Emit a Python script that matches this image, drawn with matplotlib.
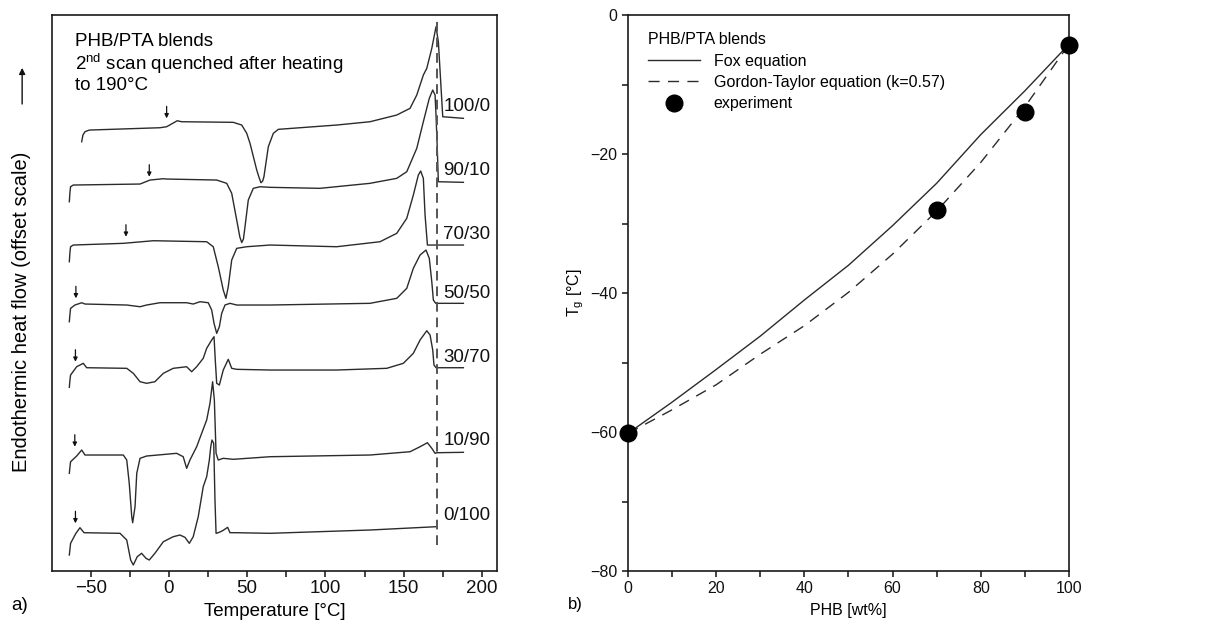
import numpy as np
import matplotlib
matplotlib.use('Agg')
import matplotlib.pyplot as plt
from matplotlib.ticker import MultipleLocator

plt.rcParams['font.family'] = ['Liberation Sans', 'DejaVu Sans']
plt.rcParams['mathtext.fontset'] = 'custom'
plt.rcParams['mathtext.rm'] = 'Liberation Sans'
plt.rcParams['mathtext.it'] = 'Liberation Sans:italic'

# ---- a) DSC traces (heat flow in offset units) ----
t_100_0 = [-55.8, -55.0, -53.7, -51.5, -50.5, -5.8, -1.5, 5.3, 8.1, 41.1, 46.5, 49.7, 51.8, 56.1,
           57.7, 58.8, 59.9, 60.7, 63.5, 66.7, 69.9, 107.2, 128.5, 145.6, 154.1, 158.4, 162.6, 164.8,
           168.0, 170.7, 172.2, 173.7, 175.0, 188.2]
q_100_0 = [429.3, 436, 439.3, 440.7, 441, 443.3, 444.3, 450.3, 449.3, 448.7, 446, 437.7, 427.7, 401,
           393, 388.3, 390, 394.3, 424.3, 437.7, 441.7, 446, 449.3, 456, 462.7, 476, 496, 502.7,
           522.7, 544.3, 529.3, 489.3, 454.3, 452.7]

t_90_10 = [-63.7, -63.3, -62.9, -61.2, -18.5, -12.1, -3.6, -1.5, 30.5, 36.9, 40.1, 43.3, 45.3, 46.5,
           47.6, 48.6, 50.7, 53.9, 58.2, 64.6, 96.5, 128.5, 145.6, 152.0, 158.4, 162.6, 166.4, 168.6,
           170.1, 170.7, 171.5, 172.2, 188.2]
q_90_10 = [369.3, 379, 384.3, 386, 387, 391, 392.3, 392, 391, 387.7, 377.7, 351, 334, 328.5,
           332, 344.3, 371, 382.7, 384.3, 383.7, 382.7, 387.7, 392.7, 399.3, 422.7, 449.3, 472.7, 481,
           476, 456, 422.7, 389.3, 388.7]

t_70_30 = [-63.7, -63.3, -62.9, -61.2, -29.2, -10.0, 24.1, 28.3, 31.5, 34.7, 36.4, 37.9, 40.1, 43.3,
           49.7, 64.6, 107.2, 134.9, 145.6, 152.0, 156.2, 159.4, 160.9, 162.6, 163.7, 165.2, 188.2]
q_70_30 = [309.3, 319, 324.3, 326, 327.7, 330.3, 329.3, 324.3, 304.3, 281, 272.7, 284.3, 311, 322.7,
           324.3, 326, 324.3, 329.3, 337.7, 352.7, 376, 396, 400, 392.7, 356, 326, 326]

t_50_50 = [-63.7, -63.3, -62.9, -60.1, -55.8, -53.7, -27.0, -18.5, -14.3, -5.8, 11.3, 15.5, 19.8,
           25.1, 27.3, 28.8, 30.5, 32.2, 33.7, 35.8, 39.0, 43.3, 64.6, 128.5, 145.6, 152.0, 156.2,
           160.5, 164.3, 166.4, 168.0, 169.0, 170.5, 188.2]
q_50_50 = [249.3, 257, 262.7, 266, 268.3, 267, 266, 264.3, 266, 268.3, 268.3, 267, 269.3,
           268.3, 261, 247.7, 237.7, 244.3, 257.7, 266, 267.7, 266, 266, 267.7, 272.7, 282.7, 302.7,
           316, 321, 312.7, 289.3, 271, 267.7, 267.7]

t_30_70 = [-63.7, -63.3, -62.9, -59.0, -54.8, -52.6, -27.0, -22.8, -18.5, -14.3, -9.0, -3.6, 2.7,
           11.3, 14.5, 17.7, 21.9, 24.1, 27.3, 28.8, 29.6, 30.5, 32.2, 34.7, 37.9, 40.1, 43.3,
           64.6, 107.2, 139.2, 149.8, 156.2, 160.5, 164.8, 166.9, 168.6, 169.4, 170.7, 188.2]
q_30_70 = [183.7, 191, 196, 204.3, 207.7, 203.3, 202.7, 197.7, 189.3, 187.7, 189.3, 197.7, 202.7,
           204.3, 199.3, 204.3, 212.7, 222.7, 231, 234.3, 211, 187.7, 186, 201, 211.7, 202.7, 201.7,
           201, 201, 202.7, 207.7, 217.7, 231, 240.3, 236, 221, 206, 203.3, 203.3]

t_10_90 = [-63.7, -63.3, -62.9, -59.0, -55.8, -53.7, -29.2, -27.0, -25.4, -23.8, -23.2, -21.7, -20.6,
           -18.5, -14.3, 4.9, 9.1, 11.3, 13.4, 17.7, 20.9, 24.1, 26.2, 27.9, 29.0, 30.1, 31.5,
           34.7, 41.1, 64.6, 128.5, 154.1, 160.5, 165.2, 168.0, 170.1, 171.2, 188.2]
q_10_90 = [97.7, 104, 109.3, 115, 121, 116, 116, 111, 87.7, 54.3, 48.3, 64.3, 97.7,
           112.7, 115, 117.7, 114.3, 102.7, 111, 124.3, 137.7, 151, 167.7, 189.3, 171, 117.7, 111,
           112.7, 111.7, 114.3, 116, 119.3, 124.3, 128.3, 122.7, 117.7, 118.3, 118.7]

t_0_100 = [-63.7, -63.3, -62.9, -59.5, -56.9, -54.3, -31.3, -27.0, -24.5, -22.8, -20.3, -17.5, -14.7,
           -12.6, -9.0, -3.6, 2.7, 7.0, 10.2, 13.0, 15.5, 18.7, 21.9, 24.1, 25.8, 26.7, 27.5, 28.6,
           29.4, 30.1, 31.5, 34.3, 37.5, 39.0, 43.3, 64.6, 128.5, 170.7]
q_0_100 = [16, 22, 27.7, 37.7, 43.3, 38.3, 37.7, 31, 11, 6, 14.3, 17.7, 12.7,
           11, 17.7, 29.3, 34.3, 36, 33.7, 27.7, 34.3, 54.3, 84.3, 94.3, 111, 124.3, 131, 127.7,
           71, 37.7, 38.3, 40.3, 43.7, 38.3, 38.3, 37.7, 41, 44.3]

blend_labels = ['100/0', '90/10', '70/30', '50/50', '30/70', '10/90', '0/100']
label_level = [464.3, 400.3, 336.7, 277.7, 213.7, 131, 56]
tg_arrow_t = [-1.5, -12.6, -27.5, -59.5, -59.8, -60.2, -59.8]
tg_arrow_q = [452.7, 394.3, 334.3, 272.7, 209.3, 124.3, 47.7]
tm_ref = 171.2

# ---- b) Tg vs composition ----
phb_wt = [0, 10, 20, 30, 40, 50, 60, 70, 80, 90, 100]
tg_fox = [-60.2, -55.7, -51.0, -46.2, -41.0, -36.0, -30.3, -24.2, -17.2, -10.9, -4.2]
tg_gt = [-60.2, -56.8, -53.2, -48.8, -44.7, -39.9, -34.4, -28.2, -21.2, -13.2, -4.2]
exp_wt = [0, 70, 90, 100]
exp_tg = [-60.2, -28.0, -13.9, -4.3]

line_c = '#2b2b2b'

fig = plt.figure(figsize=(12.17, 6.32), dpi=100)
ax1 = fig.add_axes([0.0427, 0.0965, 0.3657, 0.8797])
ax2 = fig.add_axes([0.516, 0.0965, 0.3624, 0.8797])

curves = [(t_100_0, q_100_0), (t_90_10, q_90_10), (t_70_30, q_70_30), (t_50_50, q_50_50),
          (t_30_70, q_30_70), (t_10_90, q_10_90), (t_0_100, q_0_100)]
for (t, q), lab, lvl in zip(curves, blend_labels, label_level):
    ax1.plot(t, q, color=line_c, lw=1.0)
    ax1.text(175.3, lvl, lab, fontsize=13.5, ha='left', va='center', color='#111')

for t, q in zip(tg_arrow_t, tg_arrow_q):
    ax1.annotate('', xy=(t, q), xytext=(t, q + 12),
                 arrowprops=dict(arrowstyle='-|>', lw=0.9, color='#111', mutation_scale=6,
                                 shrinkA=0, shrinkB=0))

ax1.axvline(tm_ref, ymin=0.047, ymax=0.995, color='#555', lw=1.4, ls=(0, (5, 3)))

ax1.set_xlim(-74.8, 209.7)
ax1.set_ylim(0, 556)
ax1.set_yticks([])
ax1.xaxis.set_major_locator(MultipleLocator(50))
ax1.xaxis.set_minor_locator(MultipleLocator(25))
ax1.tick_params(axis='x', which='both', direction='out', length=4, width=1.1,
                labelsize=13.5, colors='#111', pad=2.5)
ax1.set_xlabel('Temperature [°C]', fontsize=13.5, labelpad=4)
ax1.text(0.052, 0.968, 'PHB/PTA blends\n2$^{\\mathrm{nd}}$ scan quenched after heating\nto 190°C',
         transform=ax1.transAxes, ha='left', va='top', fontsize=13.5, linespacing=1.1)

fig.text(22 / 1217, 1 - 312 / 632, 'Endothermic heat flow (offset scale)', rotation=90,
         ha='center', va='center', fontsize=14.5)
ax1.annotate('', xy=(-0.067, 0.905), xytext=(-0.067, 0.84), xycoords='axes fraction',
             arrowprops=dict(arrowstyle='-|>', lw=1.0, color='#111', mutation_scale=9,
                             shrinkA=0, shrinkB=0), annotation_clip=False)

fig.text(20 / 1217, 1 - 605 / 632, 'a)', ha='center', va='center', fontsize=13.5)
fig.text(575 / 1217, 1 - 605 / 632, 'b)', ha='center', va='center', fontsize=12)

# right panel
ax2.plot(phb_wt, tg_fox, color=line_c, lw=1.0, label='Fox equation')
ax2.plot(phb_wt, tg_gt, color=line_c, lw=1.0, ls=(0, (8, 6)), label='Gordon-Taylor equation (k=0.57)')
ax2.plot(exp_wt, exp_tg, 'o', color='black', ms=12, clip_on=False, zorder=5, label='experiment')
ax2.set_xlim(0, 100)
ax2.set_ylim(-80, 0)
ax2.xaxis.set_major_locator(MultipleLocator(20))
ax2.xaxis.set_minor_locator(MultipleLocator(10))
ax2.yaxis.set_major_locator(MultipleLocator(20))
ax2.yaxis.set_minor_locator(MultipleLocator(10))
ax2.tick_params(which='both', direction='out', length=4, width=1.1, labelsize=11.5, colors='#111')
ax2.set_xlabel('PHB [wt%]', fontsize=11.5, labelpad=5)
ax2.set_ylabel('T$_{\\mathrm{g}}$ [°C]', fontsize=11.5, labelpad=3)
leg = ax2.legend(loc='upper left', bbox_to_anchor=(0.039, 0.975), borderaxespad=0, frameon=False,
                 title='PHB/PTA blends', alignment='left', fontsize=11.5, title_fontsize=11.5,
                 handlelength=3.25, handletextpad=0.85, labelspacing=0.4, borderpad=0.2)

for ax in (ax1, ax2):
    for s in ax.spines.values():
        s.set_linewidth(1.2)
        s.set_color('#1a1a1a')

fig.savefig('out.png', dpi=100)
